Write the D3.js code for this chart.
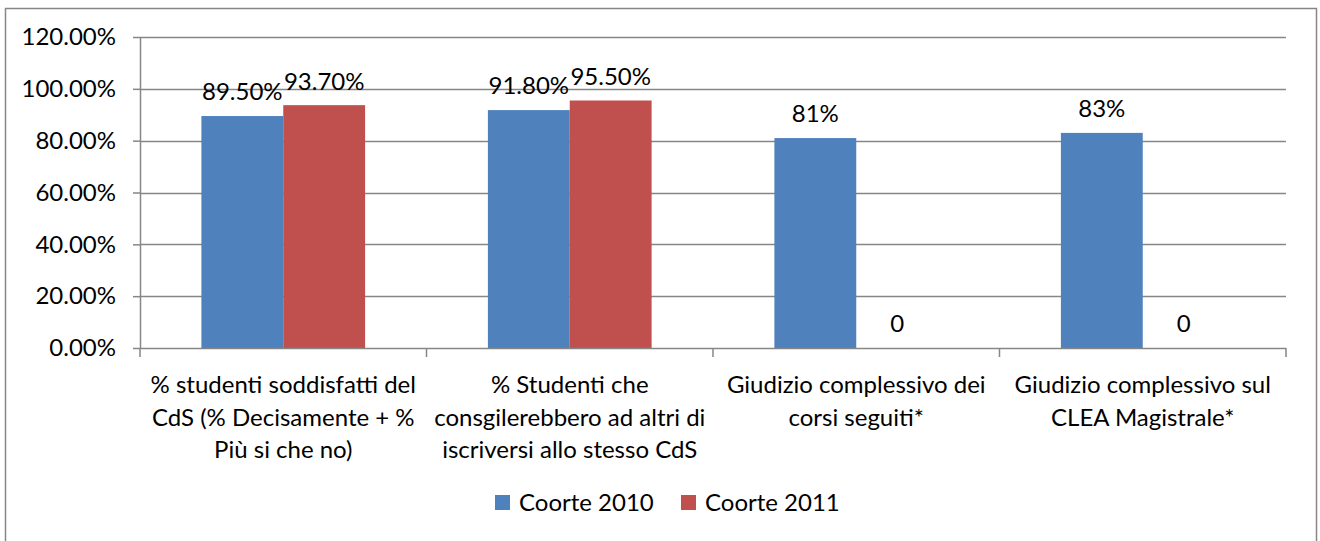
<!DOCTYPE html>
<html>
<head>
<meta charset="utf-8">
<script src="https://cdn.jsdelivr.net/npm/d3@7"></script>
<style>
  body { margin: 0; background: #fff; }
  text { font-family: Lato, "Open Sans", sans-serif; fill: #000; }
</style>
</head>
<body>
<svg id="chart"></svg>
<script>
const width = 1320, height = 541;

// data
const categories = [
    ["% studenti soddisfatti del", "CdS (% Decisamente + %", "Più si che no)"],
    ["% Studenti che", "consgilerebbero ad altri di", "iscriversi allo stesso CdS"],
    ["Giudizio complessivo dei", "corsi seguiti*"],
    ["Giudizio complessivo sul", "CLEA Magistrale*"]
];
const series = ["Coorte 2010", "Coorte 2011"];
const coorte2010 = [0.895, 0.918, 0.81, 0.83];
const coorte2011 = [0.937, 0.955, 0, 0];
const labels2010 = ["89.50%", "91.80%", "81%", "83%"];
const labels2011 = ["93.70%", "95.50%", "0", "0"];
const yTicks = [0, 0.2, 0.4, 0.6, 0.8, 1.0, 1.2];
const colors = ["#4F81BD", "#C0504D"];

const margin = { left: 140, right: 34, top: 37, bottom: 193 };
const plotW = width - margin.left - margin.right;
const plotH = height - margin.top - margin.bottom;
const fs = 24;

const svg = d3.select("#chart").attr("width", width).attr("height", height);

// outer chart border
svg.append("rect")
    .attr("x", 5.5).attr("y", 8.5)
    .attr("width", 1311).attr("height", 540)
    .attr("fill", "none").attr("stroke", "#868686").attr("stroke-width", 1.5);

const g = svg.append("g").attr("transform", `translate(${margin.left},${margin.top})`);

const x0 = d3.scaleBand().domain(d3.range(categories.length)).range([0, plotW]);
const x1 = d3.scaleBand().domain(series).range([0, x0.bandwidth()]).paddingInner(0).paddingOuter(0.75);
const y = d3.scaleLinear().domain([0, 1.2]).range([plotH, 0]);

// gridlines
g.append("g").selectAll("line")
    .data(yTicks.filter(d => d > 0))
    .join("line")
    .attr("x1", 0).attr("x2", plotW)
    .attr("y1", d => Math.round(y(d)) + 0.5).attr("y2", d => Math.round(y(d)) + 0.5)
    .attr("stroke", "#868686").attr("stroke-width", 1.5);

// y axis
const yAxis = g.append("g")
    .call(d3.axisLeft(y).tickValues(yTicks).tickFormat(d => (d * 100).toFixed(2) + "%").tickSize(7).tickSizeOuter(0));
yAxis.select(".domain").attr("stroke", "#868686").attr("stroke-width", 1.5);
yAxis.selectAll(".tick line").attr("stroke", "#868686").attr("stroke-width", 1.5);
yAxis.selectAll(".tick text").attr("x", -24).attr("font-size", fs).attr("fill", "#000").style("font-family", "Lato, sans-serif");

// bars
const rows = categories.map((c, i) => [
    { s: series[0], v: coorte2010[i], label: labels2010[i], c: colors[0] },
    { s: series[1], v: coorte2011[i], label: labels2011[i], c: colors[1] }
]);

const groups = g.selectAll(".grp").data(rows).join("g")
    .attr("class", "grp")
    .attr("transform", (d, i) => `translate(${x0(i)},0)`);

groups.selectAll("rect").data(d => d).join("rect")
    .attr("x", d => x1(d.s))
    .attr("y", d => y(d.v))
    .attr("width", x1.bandwidth())
    .attr("height", d => plotH - y(d.v))
    .attr("fill", d => d.c);

groups.selectAll("text.val").data(d => d).join("text")
    .attr("class", "val")
    .attr("x", d => x1(d.s) + x1.bandwidth() / 2)
    .attr("y", d => y(d.v) - 24)
    .attr("dy", "0.35em")
    .attr("text-anchor", "middle")
    .attr("font-size", fs)
    .text(d => d.label);

// x axis
const xAxis = g.append("g").attr("transform", `translate(0,${plotH})`);
xAxis.append("line")
    .attr("x1", 0).attr("x2", plotW).attr("y1", 0.5).attr("y2", 0.5)
    .attr("stroke", "#868686").attr("stroke-width", 1.5);
xAxis.selectAll("line.tk").data(d3.range(categories.length + 1)).join("line")
    .attr("class", "tk")
    .attr("x1", d => d * x0.bandwidth()).attr("x2", d => d * x0.bandwidth())
    .attr("y1", 0).attr("y2", 9)
    .attr("stroke", "#868686").attr("stroke-width", 1.5);
xAxis.selectAll("text.cat").data(categories).join("text")
    .attr("class", "cat")
    .attr("x", (d, i) => x0(i) + x0.bandwidth() / 2)
    .attr("y", 37)
    .attr("text-anchor", "middle")
    .attr("font-size", fs)
    .selectAll("tspan").data(d => d).join("tspan")
    .attr("x", function () { return d3.select(this.parentNode).attr("x"); })
    .attr("dy", (d, i) => i === 0 ? "0.35em" : 32.5)
    .text(d => d);

// legend
const legend = svg.append("g").attr("transform", "translate(495,495)");
const items = legend.selectAll("g").data(series).join("g")
    .attr("transform", (d, i) => `translate(${i * 186},0)`);
items.append("rect").attr("width", 15).attr("height", 15).attr("fill", (d, i) => colors[i]);
items.append("text").attr("x", 24).attr("y", 8).attr("dy", "0.35em").attr("font-size", fs).text(d => d);
</script>
</body>
</html>
